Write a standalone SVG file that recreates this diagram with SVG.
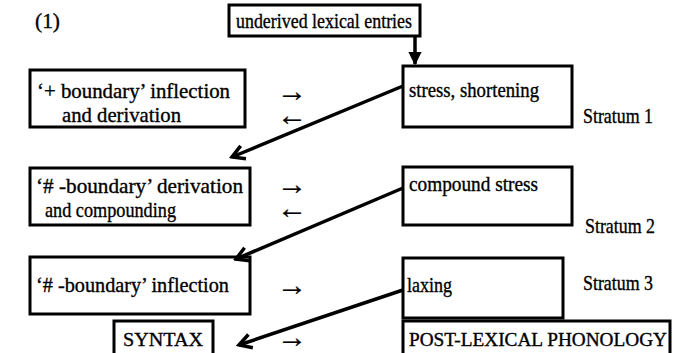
<svg xmlns="http://www.w3.org/2000/svg" width="673" height="353" viewBox="0 0 673 353">
<style>
text{font-family:"Liberation Serif","Times New Roman",serif;font-size:21px;fill:#000;stroke:#000;stroke-width:0.35}
text.ar{font-size:30px;stroke-width:0.3}
text.low{font-size:19px}
.box{fill:#fff;stroke:#000;stroke-width:3}
.conn{stroke:#000;stroke-width:3.5;fill:none}
</style>
<defs>
<marker id="ah" viewBox="0 0 10 10" refX="8.5" refY="5" markerWidth="5" markerHeight="5" orient="auto" markerUnits="strokeWidth">
<path d="M1.5,1 L8.5,5 L1.5,9" fill="none" stroke="#000" stroke-width="2"/>
</marker>
<marker id="ahd" viewBox="0 0 10 10" refX="9" refY="5" markerWidth="3.8" markerHeight="3.8" orient="auto" markerUnits="strokeWidth">
<path d="M0,0 L10,5 L0,10 Z" fill="#000"/>
</marker>
</defs>
<rect width="673" height="353" fill="#fff"/>
<text x="35" y="28" textLength="25" lengthAdjust="spacingAndGlyphs">(1)</text>
<g id="lexical">
<rect class="box" x="229" y="5" width="191" height="31"/>
<text x="236" y="28" textLength="176" lengthAdjust="spacingAndGlyphs">underived lexical entries</text>
</g>
<g id="plus-boundary">
<rect class="box" x="30" y="70" width="215" height="57"/>
<text x="37" y="98" textLength="193" lengthAdjust="spacingAndGlyphs">‘+ boundary’ inflection</text>
<text x="62" y="122" textLength="119" lengthAdjust="spacingAndGlyphs">and derivation</text>
</g>
<g id="stress">
<rect class="box" x="403" y="66" width="169" height="61"/>
<text x="409" y="97" textLength="130" lengthAdjust="spacingAndGlyphs">stress, shortening</text>
</g>
<text x="583" y="123" textLength="70" lengthAdjust="spacingAndGlyphs">Stratum 1</text>
<g id="hash-derivation">
<rect class="box" x="30" y="168" width="220" height="57"/>
<text x="36" y="193" textLength="207" lengthAdjust="spacingAndGlyphs">‘# -boundary’ derivation</text>
<text x="45" y="217" textLength="131" lengthAdjust="spacingAndGlyphs">and compounding</text>
</g>
<g id="compound">
<rect class="box" x="403" y="167" width="169" height="58"/>
<text x="409" y="191" textLength="129" lengthAdjust="spacingAndGlyphs">compound stress</text>
</g>
<text x="585" y="233" textLength="70" lengthAdjust="spacingAndGlyphs">Stratum 2</text>
<g id="hash-inflection">
<rect class="box" x="30" y="257" width="220" height="57"/>
<text x="36" y="292" textLength="193" lengthAdjust="spacingAndGlyphs">‘# -boundary’ inflection</text>
</g>
<g id="laxing">
<rect class="box" x="403" y="258" width="160" height="60"/>
<text x="407" y="292" textLength="45" lengthAdjust="spacingAndGlyphs">laxing</text>
</g>
<text x="583" y="290" textLength="70" lengthAdjust="spacingAndGlyphs">Stratum 3</text>
<g id="syntax">
<rect class="box" x="114" y="321" width="99" height="40"/>
<text class="low" x="123" y="346" textLength="80" lengthAdjust="spacingAndGlyphs">SYNTAX</text>
</g>
<g id="postlex">
<rect class="box" x="403" y="321" width="267" height="40"/>
<text class="low" x="409" y="346" textLength="258" lengthAdjust="spacingAndGlyphs">POST-LEXICAL PHONOLOGY</text>
</g>
<g id="connectors">
<text class="ar"><tspan x="277" y="101">→</tspan><tspan x="277" y="125">←</tspan></text>
<text class="ar"><tspan x="277" y="194">→</tspan><tspan x="277" y="218">←</tspan></text>
<text class="ar" x="277" y="295">→</text>
<text class="ar" x="277" y="347">→</text>
<line class="conn" x1="415" y1="36" x2="415" y2="64" marker-end="url(#ahd)"/>
<line class="conn" x1="403" y1="86" x2="232" y2="157" marker-end="url(#ah)"/>
<line class="conn" x1="403" y1="188" x2="236" y2="259" marker-end="url(#ah)"/>
<line class="conn" x1="403" y1="290" x2="239" y2="345" marker-end="url(#ah)"/>
</g>
</svg>
